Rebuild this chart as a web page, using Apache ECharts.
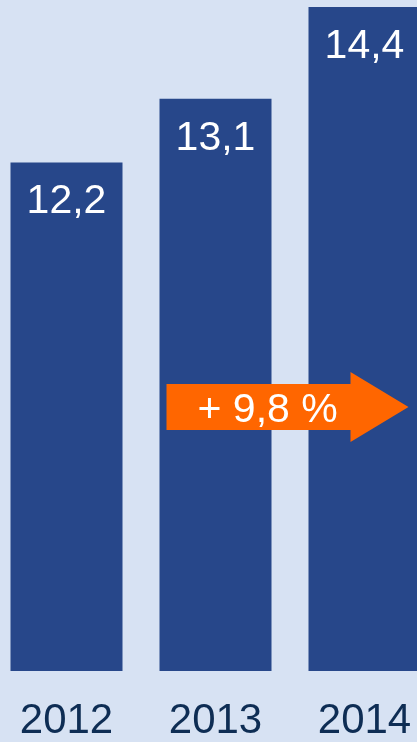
<!DOCTYPE html>
<html><head><meta charset="utf-8">
<script src="https://cdn.jsdelivr.net/npm/echarts@6/dist/echarts.min.js"></script>
<style>html,body{margin:0;padding:0;background:#d7e2f3;overflow:hidden;width:417px;height:742px;position:relative;}#c{position:absolute;left:-8.5px;top:0;width:447px;height:742px;}</style>
</head><body><div id="c"></div>
<script>
var categories = ['2012', '2013', '2014'];
var values = [12.2, 13.1, 14.4];
var valueLabels = ['12,2', '13,1', '14,4'];
var growthLabel = '+ 9,8 %';

var chart = echarts.init(document.getElementById('c'));
var font = '"Liberation Sans", Arial, sans-serif';
var dx = 8.5;
chart.setOption({
  backgroundColor: '#d7e2f3',
  animation: false,
  grid: {left: 0, right: 0, top: 7, bottom: 67, containLabel: false},
  xAxis: {
    type: 'category', data: categories,
    axisLine: {show: false}, axisTick: {show: false},
    axisLabel: {color: '#0e2d54', fontSize: 42, fontFamily: font, margin: 29}
  },
  yAxis: {type: 'value', min: 5, max: 14.4, show: false, splitLine: {show: false}},
  series: [{
    type: 'bar', data: values, barWidth: 112,
    itemStyle: {color: '#27478a'},
    label: {
      show: true, position: 'insideTop', distance: 19,
      color: '#ffffff', fontSize: 41, fontFamily: font,
      formatter: function (p) { return valueLabels[p.dataIndex]; }
    }
  }],
  graphic: [{
    type: 'polygon', z: 100,
    shape: {points: [[166 + dx, 384], [350 + dx, 384], [350 + dx, 372], [408 + dx, 407], [350 + dx, 442], [350 + dx, 430], [166 + dx, 430]]},
    style: {fill: '#ff6600'}
  }, {
    type: 'text', z: 101, left: 197 + dx, top: 390,
    style: {text: growthLabel, fill: '#ffffff', fontSize: 41, fontFamily: font}
  }]
});
</script></body></html>
